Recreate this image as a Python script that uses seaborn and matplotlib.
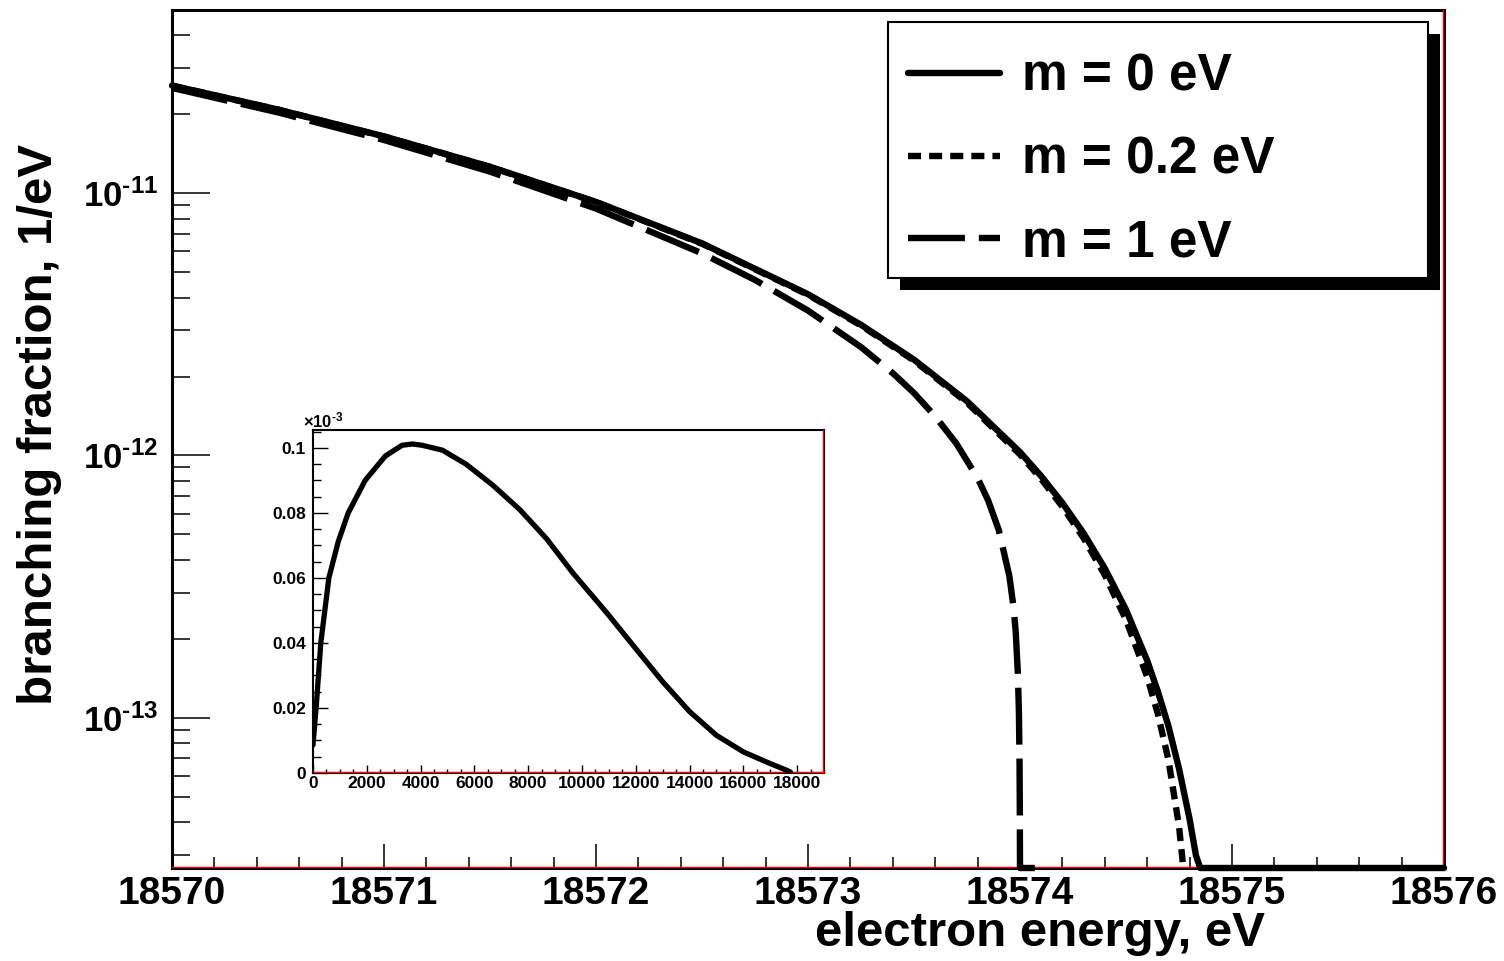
import numpy as np
import matplotlib
matplotlib.use("Agg")
import matplotlib.pyplot as plt
import matplotlib.ticker as ticker
import matplotlib.transforms as mtransforms
from matplotlib.patches import Rectangle
import seaborn as sns

# endpoint region, branching fraction in 1/eV
energy_m0 = [18570, 18570.5, 18571, 18571.5, 18572, 18572.5, 18573, 18573.25, 18573.5,
             18573.75, 18574, 18574.1, 18574.2, 18574.3, 18574.4, 18574.5, 18574.6,
             18574.65, 18574.7, 18574.75, 18574.8, 18574.83, 18574.85, 18574.9, 18575, 18576]
frac_m0 = [2.575e-11, 2.086e-11, 1.648e-11, 1.262e-11, 9.27e-12, 6.44e-12, 4.12e-12, 3.15e-12,
           2.32e-12, 1.61e-12, 1.03e-12, 8.34e-13, 6.59e-13, 5.05e-13, 3.71e-13, 2.58e-13,
           1.65e-13, 1.26e-13, 9.3e-14, 6.4e-14, 4.1e-14, 2.98e-14, 2.3e-14, 1.0e-14, 0, 0]

energy_m02 = [18570, 18570.5, 18571, 18571.5, 18572, 18572.5, 18573, 18573.25, 18573.5,
              18573.75, 18574, 18574.1, 18574.2, 18574.3, 18574.4, 18574.5, 18574.6,
              18574.65, 18574.7, 18574.75, 18574.77]
frac_m02 = [2.573e-11, 2.084e-11, 1.646e-11, 1.260e-11, 9.25e-12, 6.42e-12, 4.10e-12, 3.13e-12,
            2.30e-12, 1.59e-12, 1.009e-12, 8.13e-13, 6.38e-13, 4.84e-13, 3.50e-13, 2.36e-13,
            1.43e-13, 1.035e-13, 6.91e-14, 3.86e-14, 2.69e-14]

energy_m1 = [18570, 18570.5, 18571, 18571.5, 18572, 18572.5, 18572.75, 18573, 18573.25,
             18573.4, 18573.5, 18573.6, 18573.7, 18573.8, 18573.85, 18573.9, 18573.95,
             18573.97, 18573.98, 18573.99, 18573.995, 18573.998, 18573.999, 18574.0, 18574.07]
frac_m1 = [2.523e-11, 2.034e-11, 1.596e-11, 1.209e-11, 8.74e-12, 5.90e-12, 4.67e-12, 3.57e-12,
           2.59e-12, 2.06e-12, 1.73e-12, 1.41e-12, 1.11e-12, 8.20e-13, 6.73e-13, 5.19e-13,
           3.46e-13, 2.62e-13, 2.11e-13, 1.47e-13, 1.04e-13, 6.53e-14, 4.61e-14, 0, 0]

labels = ['m = 0 eV', 'm = 0.2 eV', 'm = 1 eV']

# full spectrum for the inset, in units of 1e-3 / eV
energy_full = [0, 125, 290, 590, 940, 1310, 1940, 2690, 3310, 3700, 4060, 4810, 5690, 6690,
               7690, 8690, 9665, 10930, 12045, 13000, 14000, 15000, 16000, 17000, 17625, 17750]
frac_full = [0.0086, 0.021, 0.040, 0.060, 0.0712, 0.080, 0.090, 0.0975, 0.1008, 0.1012,
             0.1008, 0.0993, 0.095, 0.0885, 0.081, 0.072, 0.0615, 0.0492, 0.0378, 0.0281,
             0.0189, 0.0116, 0.0065, 0.0029, 0.0008, 0.0003]

y_min, y_max = 2.67e-14, 5e-11
y_major = [1e-13, 1e-12, 1e-11]
y_minor = [m * d for d in (1e-14, 1e-13, 1e-12, 1e-11) for m in range(2, 10)
           if y_min <= m * d <= y_max]

sns.set_style('white')
plt.rcParams['font.family'] = ['Liberation Sans', 'DejaVu Sans']
plt.rcParams['font.weight'] = 'bold'
plt.rcParams['axes.labelweight'] = 'bold'
plt.rcParams['mathtext.fontset'] = 'custom'
plt.rcParams['mathtext.rm'] = 'Liberation Sans:bold'
plt.rcParams['mathtext.bf'] = 'Liberation Sans:bold'
plt.rcParams['mathtext.it'] = 'Liberation Sans:bold'
plt.rcParams['mathtext.default'] = 'bf'
plt.rcParams['lines.scale_dashes'] = False
for k in ('text.color', 'axes.labelcolor', 'xtick.color', 'ytick.color', 'axes.edgecolor'):
    plt.rcParams[k] = 'black'

fig = plt.figure(figsize=(15.04, 9.61), dpi=100)
ax = fig.add_axes([172/1504, 1-868/961, 1272/1504, 858/961])

lw = 4.6
styles = ['-', (0, (9.4, 5.8)), (0, (41, 10))]
series = [(energy_m0, frac_m0), (energy_m02, frac_m02), (energy_m1, frac_m1)]
for (e, f), ls, lab in zip(series, styles, labels):
    f = np.clip(np.array(f), y_min, None)
    sns.lineplot(x=e, y=f, ax=ax, color='black', linewidth=lw, linestyle=ls,
                 estimator=None, label=lab, zorder=4, clip_on=False)
handles = ax.get_lines()[:3]


def red_edges(a):
    up = mtransforms.offset_copy(a.transAxes, fig=fig, x=0, y=1.5, units='dots')
    lf = mtransforms.offset_copy(a.transAxes, fig=fig, x=-1.5, y=0, units='dots')
    a.plot([0, 1], [0, 0], transform=up, color='red', lw=1.0, zorder=3, clip_on=False)
    a.plot([1, 1], [0, 1], transform=lf, color='red', lw=1.0, zorder=3, clip_on=False)


red_edges(ax)

ax.set_yscale('log')
ax.set_xlim(18570, 18576)
ax.set_ylim(y_min, y_max)
ax.xaxis.set_major_locator(ticker.MultipleLocator(1))
ax.xaxis.set_minor_locator(ticker.MultipleLocator(0.2))
ax.xaxis.set_major_formatter(ticker.FuncFormatter(lambda v, p: '%d' % round(v)))
ax.yaxis.set_major_locator(ticker.FixedLocator(y_major))
ax.yaxis.set_minor_locator(ticker.FixedLocator(y_minor))
ax.yaxis.set_major_formatter(ticker.FuncFormatter(
    lambda v, p: r'$\mathbf{10^{\text{-}%d}}$' % abs(round(np.log10(v)))))
ax.yaxis.set_minor_formatter(ticker.NullFormatter())

ax.tick_params(axis='x', which='major', direction='in', length=17, width=1.1,
               labelsize=28, pad=6, bottom=True, top=False)
ax.tick_params(axis='x', which='minor', direction='in', length=8, width=1.1,
               bottom=True, top=False)
ax.tick_params(axis='y', which='major', direction='in', length=27, width=1.1,
               labelsize=25, pad=10, left=True, right=False)
ax.tick_params(axis='y', which='minor', direction='in', length=13, width=1.1,
               left=True, right=False)
for s in ax.spines.values():
    s.set_linewidth(2.2)
    s.set_color('black')

ax.set_xlabel('electron energy, eV', fontsize=35.5, ha='right', va='center')
ax.xaxis.set_label_coords((1265-172)/1272, (868-933)/858)
ax.set_ylabel('branching fraction, 1/eV', fontsize=35.5, ha='center', va='center')
ax.yaxis.set_label_coords((40-172)/1272, (868-424)/858)

# legend box with a solid offset shadow
bx0, by0 = (888-172)/1272, (868-278)/858
bw, bh = 540/1272, 256/858
ax.add_patch(Rectangle((bx0 + 12/1272, by0 - 12/858), bw, bh, transform=ax.transAxes,
                       facecolor='black', edgecolor='none', zorder=6, clip_on=False))
ax.add_patch(Rectangle((bx0, by0), bw, bh, transform=ax.transAxes, facecolor='white',
                       edgecolor='black', lw=1.5, zorder=6.5, clip_on=False))
leg = ax.legend(handles=handles, labels=labels, loc='center left',
                bbox_to_anchor=((908-172)/1272, (868-160)/858), frameon=False,
                borderpad=0, borderaxespad=0, handlelength=1.79, handletextpad=0.43,
                labelspacing=0.66, prop={'size': 37, 'weight': 'bold'})
leg.set_zorder(7)

# inset: full spectrum
ax_in = fig.add_axes([313/1504, 1-773/961, 511/1504, 343/961])
sns.lineplot(x=energy_full, y=frac_full, ax=ax_in, color='black', linewidth=3.8,
             estimator=None, zorder=4)
red_edges(ax_in)
ax_in.set_xlim(0, 19000)
ax_in.set_ylim(0, 0.1055)
ax_in.xaxis.set_major_locator(ticker.MultipleLocator(2000))
ax_in.xaxis.set_minor_locator(ticker.MultipleLocator(500))
ax_in.yaxis.set_major_locator(ticker.MultipleLocator(0.02))
ax_in.yaxis.set_minor_locator(ticker.MultipleLocator(0.005))
ax_in.xaxis.set_major_formatter(ticker.FuncFormatter(lambda v, p: '%d' % round(v)))
ax_in.yaxis.set_major_formatter(ticker.FuncFormatter(lambda v, p: '%g' % round(v, 3)))
ax_in.tick_params(axis='x', which='major', direction='in', length=6, width=1,
                  labelsize=12.5, pad=2, bottom=True, top=False)
ax_in.tick_params(axis='x', which='minor', direction='in', length=3, width=1,
                  bottom=True, top=False)
ax_in.tick_params(axis='y', which='major', direction='in', length=11, width=1,
                  labelsize=12.5, pad=5, left=True, right=False)
ax_in.tick_params(axis='y', which='minor', direction='in', length=6, width=1,
                  left=True, right=False)
for s in ax_in.spines.values():
    s.set_linewidth(1.5)
    s.set_color('black')
ax_in.set_xlabel('')
ax_in.set_ylabel('')
ax_in.text(-0.02, 1.0, r'$\times10^{\text{-}3}$', transform=ax_in.transAxes, fontsize=12,
           ha='left', va='bottom')

fig.savefig('out.png', dpi=100, facecolor='white')
